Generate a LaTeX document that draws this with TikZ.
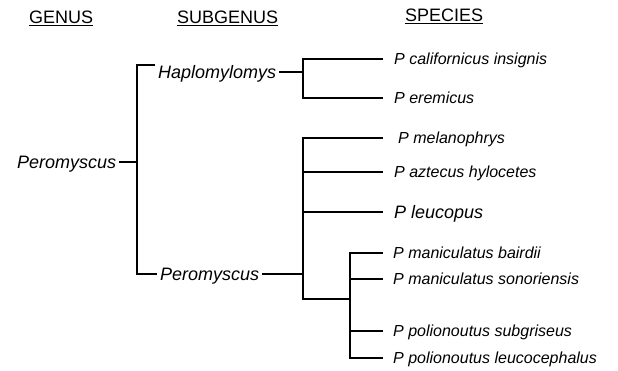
\documentclass[tikz,border=0pt]{standalone}
\usepackage{fontspec}
\setmainfont{Liberation Sans}
\usetikzlibrary{positioning}

\begin{document}
\begin{tikzpicture}[x=1pt, y=-1pt,
      head/.style={anchor=base west, inner sep=0pt, font=\fontsize{18}{21}\selectfont},
      taxon/.style={inner xsep=3pt, inner ysep=0pt, text height=12.9pt, text depth=0pt, font=\itshape\fontsize{18}{21}\selectfont},
      species/.style={anchor=west, inner xsep=11pt, inner ysep=0pt, text height=11.5pt, text depth=0pt, font=\itshape\fontsize{16}{19}\selectfont},
      branch/.style={line width=1.8pt, line join=miter},
    ]
      \useasboundingbox (0,0) rectangle (618,370);

      % column headings
      \node[head] (genus) at (29,23.5) {\underline{GENUS}};
      \node[head] (subgenus) at (177,23.5) {\underline{SUBGENUS}};
      \node[head] (species) at (405,21.5) {\underline{SPECIES}};

      % genus and subgenera
      \node[taxon, anchor=west] (perom) at (14,162) {Peromyscus};
      \node[taxon, anchor=west] (haplo) at (155,72) {Haplomylomys};
      \node[taxon, anchor=west] (subperom) at (157,274) {Peromyscus};

      % species
      \node[species] (calif) at (383,59) {P californicus insignis};
      \node[species] (eremi) at (383,98) {P eremicus};
      \node[species, inner xsep=15pt] (melan) at (383,138) {P melanophrys};
      \node[species] (aztec) at (383,172) {P aztecus hylocetes};
      \node[species, font=\itshape\fontsize{18}{21}\selectfont, text height=12.9pt] (leuco) at (383,212) {P leucopus};
      \node[species, inner xsep=10pt] (baird) at (383,253) {P maniculatus bairdii};
      \node[species, inner xsep=10pt] (sonor) at (383,279) {P maniculatus sonoriensis};
      \node[species, inner xsep=10pt] (subgr) at (383,331) {P polionoutus subgriseus};
      \node[species, inner xsep=10pt] (leucc) at (383,358) {P polionoutus leucocephalus};

      \coordinate (root) at (137,162);
      \coordinate (hapj) at (303,78.5);
      \coordinate (perj) at (303,274);
      \coordinate (manj) at (350,299);

      \draw[branch] (perom.east) -- (root);
      \draw[branch] (haplo.north west) -| (root) |- (subperom.west);

      \draw[branch] (haplo.east) -- (haplo.east -| hapj);
      \draw[branch] (calif.west) -| (hapj) |- (eremi.west);

      \draw[branch] (subperom.east) -- (perj);
      \draw[branch] (melan.west) -| (perj) |- (manj);
      \draw[branch] (aztec.west) -- (aztec.west -| perj);
      \draw[branch] (leuco.west) -- (leuco.west -| perj);

      \draw[branch] (baird.west) -| (manj) |- (leucc.west);
      \draw[branch] (sonor.west) -- (sonor.west -| manj);
      \draw[branch] (subgr.west) -- (subgr.west -| manj);
    \end{tikzpicture}
\end{document}
